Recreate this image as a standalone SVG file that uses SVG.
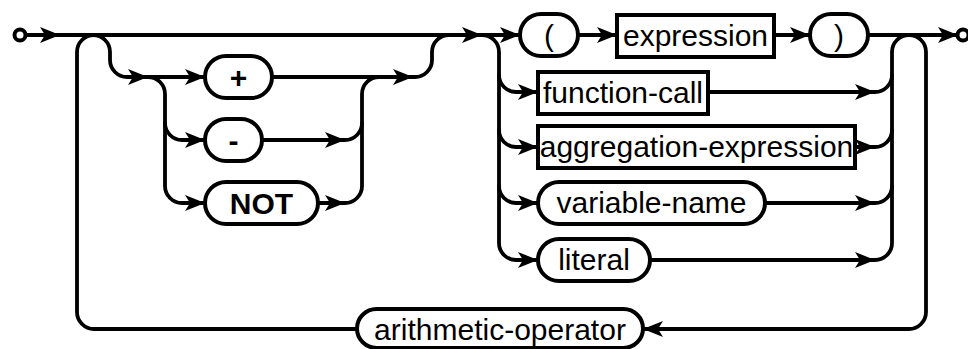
<svg xmlns="http://www.w3.org/2000/svg" xmlns:xlink="http://www.w3.org/1999/xlink" width="968" height="349" viewBox="0 0 968 349">
<style>
.ln{fill:none;stroke:#000;stroke-width:3.8;stroke-linecap:round;stroke-linejoin:round}
.bx{fill:#fff;stroke:#000;stroke-width:4}
.t{font-family:"Liberation Sans",Arial,sans-serif;font-size:30px;fill:#000;text-anchor:middle}
.b{font-weight:bold}
.ah{fill:#000;stroke:none}
</style>
<defs>
<path id="ah" class="ah" d="M0,0 L-20,-8 L-15,0 L-20,8 Z"/>
</defs>
<rect width="968" height="349" fill="#fff"/>
<g id="connectors">
<path class="ln" d="M25,35 L520,35"/>
<path class="ln" d="M578,35 L617,35"/>
<path class="ln" d="M774,35 L810,35"/>
<path class="ln" d="M868,35 L956,35"/>
<path class="ln" d="M94,35 A17,17 0 0 0 77,52 L77,312 A17,17 0 0 0 94,329 L357,329"/>
<path class="ln" d="M93,35 A17,17 0 0 1 110,52 L110,60 A17,17 0 0 0 127,77 L205,77"/>
<path class="ln" d="M148,77 A17,17 0 0 1 165,94 L165,186 A17,17 0 0 0 182,203 L205,203"/>
<path class="ln" d="M165,123 A17,17 0 0 0 182,140 L205,140"/>
<path class="ln" d="M272,77 L415,77 A17,17 0 0 0 432,60 L432,52 A17,17 0 0 1 449,35"/>
<path class="ln" d="M262,140 L345,140 A17,17 0 0 0 362,123 L362,94 A17,17 0 0 1 379,77"/>
<path class="ln" d="M318,203 L345,203 A17,17 0 0 0 362,186 L362,123"/>
<path class="ln" d="M482,35 A17,17 0 0 1 499,52 L499,243 A17,17 0 0 0 516,260 L538,260"/>
<path class="ln" d="M499,75 A17,17 0 0 0 516,92 L538,92"/>
<path class="ln" d="M499,130 A17,17 0 0 0 516,147 L538,147"/>
<path class="ln" d="M499,186 A17,17 0 0 0 516,203 L538,203"/>
<path class="ln" d="M708,92 L875,92 A17,17 0 0 0 892,75"/>
<path class="ln" d="M855,147 L875,147 A17,17 0 0 0 892,130"/>
<path class="ln" d="M765,203 L875,203 A17,17 0 0 0 892,186"/>
<path class="ln" d="M650,260 L875,260 A17,17 0 0 0 892,243 L892,52 A17,17 0 0 1 909,35"/>
<path class="ln" d="M909,35 A17,17 0 0 1 926,52 L926,312 A17,17 0 0 1 909,329 L643,329"/>
<use xlink:href="#ah" transform="translate(60,35)"/>
<use xlink:href="#ah" transform="translate(148,77)"/>
<use xlink:href="#ah" transform="translate(205,77)"/>
<use xlink:href="#ah" transform="translate(205,140)"/>
<use xlink:href="#ah" transform="translate(205,203)"/>
<use xlink:href="#ah" transform="translate(345,140)"/>
<use xlink:href="#ah" transform="translate(345,203)"/>
<use xlink:href="#ah" transform="translate(413,77)"/>
<use xlink:href="#ah" transform="translate(482,35)"/>
<use xlink:href="#ah" transform="translate(520,35)"/>
<use xlink:href="#ah" transform="translate(617,35)"/>
<use xlink:href="#ah" transform="translate(810,35)"/>
<use xlink:href="#ah" transform="translate(958,35)"/>
<use xlink:href="#ah" transform="translate(538,92)"/>
<use xlink:href="#ah" transform="translate(538,147)"/>
<use xlink:href="#ah" transform="translate(538,203)"/>
<use xlink:href="#ah" transform="translate(538,260)"/>
<use xlink:href="#ah" transform="translate(875,92)"/>
<use xlink:href="#ah" transform="translate(875,147)"/>
<use xlink:href="#ah" transform="translate(875,203)"/>
<use xlink:href="#ah" transform="translate(875,260)"/>
<use xlink:href="#ah" transform="translate(643,329) rotate(180)"/>
</g>
<g id="start"><circle class="bx" cx="20" cy="35" r="5.5"/></g>
<g id="end"><circle class="bx" cx="963" cy="35" r="5.5"/></g>
<g id="plus"><rect class="bx" x="205" y="56" width="67" height="42" rx="21"/><text class="t b" x="238.5" y="88">+</text></g>
<g id="minus"><rect class="bx" x="205" y="119" width="57" height="42" rx="21"/><text class="t b" x="233.5" y="151">-</text></g>
<g id="not"><rect class="bx" x="205" y="182" width="113" height="42" rx="21"/><text class="t b" x="261.5" y="214">NOT</text></g>
<g id="lparen"><rect class="bx" x="520" y="14" width="58" height="42" rx="21"/><text class="t" x="549" y="46">(</text></g>
<g id="expression"><rect class="bx" x="617" y="15" width="157" height="42"/><text class="t" x="695.5" y="46">expression</text></g>
<g id="rparen"><rect class="bx" x="810" y="14" width="58" height="42" rx="21"/><text class="t" x="839" y="46">)</text></g>
<g id="function-call"><rect class="bx" x="538" y="72" width="170" height="42"/><text class="t" x="623" y="103">function-call</text></g>
<g id="aggregation-expression"><rect class="bx" x="538" y="126" width="317" height="42"/><text class="t" x="696.5" y="157">aggregation-expression</text></g>
<g id="variable-name"><rect class="bx" x="538" y="182" width="227" height="42" rx="21"/><text class="t" x="651.5" y="213">variable-name</text></g>
<g id="literal"><rect class="bx" x="538" y="239" width="112" height="42" rx="21"/><text class="t" x="594" y="270">literal</text></g>
<g id="arithmetic-operator"><rect class="bx" x="357" y="309" width="286" height="39" rx="19.5"/><text class="t" x="500" y="340">arithmetic-operator</text></g>
</svg>
